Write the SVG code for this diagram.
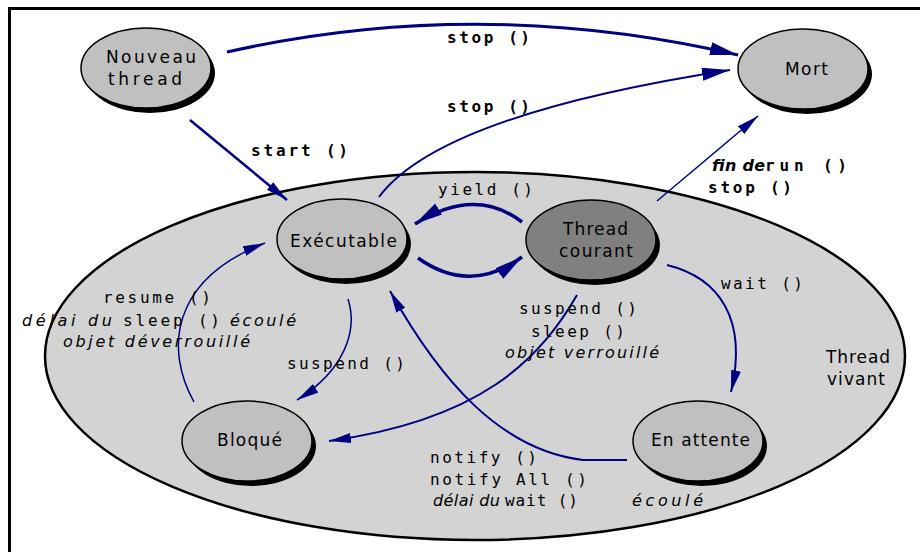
<svg xmlns="http://www.w3.org/2000/svg" width="920" height="552" viewBox="0 0 920 552">
<defs>
<style>
.nt{font-family:"DejaVu Sans","Liberation Sans",sans-serif;font-size:17px;fill:#000}
.cd{font-family:"DejaVu Sans Mono","Liberation Mono",monospace;font-size:16px;fill:#000}
.cb{font-family:"DejaVu Sans Mono","Liberation Mono",monospace;font-size:16px;font-weight:bold;fill:#000}
.it{font-family:"DejaVu Sans","Liberation Sans",sans-serif;font-size:16px;font-style:italic;fill:#000}
.ib{font-family:"DejaVu Sans","Liberation Sans",sans-serif;font-size:16px;font-style:italic;font-weight:bold;fill:#000}
.node{fill:#c0c0c0;stroke:#000;stroke-width:1.5}
.cur{fill:#808080;stroke:#000;stroke-width:1.5}
.sh{fill:#000}
.cn{fill:none;stroke:#000080}
</style>
<marker id="ah" markerUnits="userSpaceOnUse" markerWidth="24" markerHeight="12" refX="22" refY="5" orient="auto">
<path d="M0,0 L22,5 L0,10 z" fill="#000080"/>
</marker>
<marker id="ahL" markerUnits="userSpaceOnUse" markerWidth="30" markerHeight="14" refX="28" refY="6.5" orient="auto">
<path d="M0,0 L28,6.5 L0,13 z" fill="#000080"/>
</marker>
</defs>
<rect width="920" height="552" fill="#fff"/>
<path d="M9.5,552 V8.5 H920" fill="none" stroke="#000" stroke-width="3"/>
<g id="thread-vivant">
<ellipse cx="475" cy="356" rx="430" ry="184" fill="#d3d3d3" stroke="#000" stroke-width="2.5"/>
<text class="nt" x="826" y="363" textLength="64">Thread</text>
<text class="nt" x="827" y="385" textLength="58">vivant</text>
</g>
<g id="connectors">
<path class="cn" stroke-width="3" d="M227,52 Q480,-5 738,55" marker-end="url(#ahL)"/>
<path class="cn" stroke-width="2" d="M379,197 Q440,115 730,70" marker-end="url(#ahL)"/>
<path class="cn" stroke-width="2.5" d="M190,120 L287,200" marker-end="url(#ah)"/>
<path class="cn" stroke-width="1.5" d="M657,201 L758,116" marker-end="url(#ah)"/>
<path class="cn" stroke-width="3.5" d="M522,222 Q475,186 415,224" marker-end="url(#ahL)"/>
<path class="cn" stroke-width="3.5" d="M418,258 Q470,295 522,257" marker-end="url(#ahL)"/>
<path class="cn" stroke-width="2" d="M667,265 C720,278 748,320 731,392" marker-end="url(#ah)"/>
<path class="cn" stroke-width="1.5" d="M348,299 C358,330 345,370 297,400" marker-end="url(#ah)"/>
<path class="cn" stroke-width="2" d="M577,295 C540,360 480,420 329,441" marker-end="url(#ah)"/>
<path class="cn" stroke-width="2" d="M627,460 L583,460 C500,450 440,380 390,291" marker-end="url(#ah)"/>
<path class="cn" stroke-width="1.5" d="M194,402 C165,350 170,280 265,243" marker-end="url(#ah)"/>
</g>
<g id="labels">
<text class="cb" x="447" y="43" textLength="83">stop ()</text>
<text class="cb" x="447" y="112" textLength="83">stop ()</text>
<text class="cb" x="251" y="156" textLength="97">start ()</text>
<text class="ib" x="712" y="171" textLength="53">fin de</text>
<text class="cb" x="765" y="171" textLength="82">run ()</text>
<text class="cb" x="708" y="193" textLength="84">stop ()</text>
<text class="cd" x="438" y="195" textLength="95">yield ()</text>
<text class="cd" x="721" y="289" textLength="82">wait ()</text>
<text class="cd" x="519" y="314" textLength="118">suspend ()</text>
<text class="cd" x="531" y="337" textLength="94">sleep ()</text>
<text class="it" x="505" y="358" textLength="154">objet verrouillé</text>
<text class="cd" x="103" y="303" textLength="108">resume ()</text>
<text class="it" x="22" y="326" textLength="90">délai du</text>
<text class="cd" x="123" y="326" textLength="97">sleep ()</text>
<text class="it" x="230" y="326" textLength="66">écoulé</text>
<text class="it" x="63" y="347" textLength="187">objet déverrouillé</text>
<text class="cd" x="287" y="369" textLength="118">suspend ()</text>
<text class="cd" x="430" y="463" textLength="107">notify ()</text>
<text class="cd" x="430" y="485" textLength="157">notify All ()</text>
<text class="it" x="433" y="506" textLength="67">délai du</text>
<text class="cd" x="505" y="506" textLength="73">wait ()</text>
<text class="it" x="632" y="506" textLength="71">écoulé</text>
</g>
<g id="nouveau-thread">
<ellipse class="sh" cx="150" cy="73" rx="65" ry="40"/>
<ellipse class="node" cx="146" cy="68" rx="65" ry="40"/>
<text class="nt" x="106" y="63" textLength="90">Nouveau</text>
<text class="nt" x="108" y="85" textLength="74">thread</text>
</g>
<g id="mort">
<ellipse class="sh" cx="807" cy="74" rx="65" ry="40"/>
<ellipse class="node" cx="803" cy="69" rx="65" ry="40"/>
<text class="nt" x="785" y="75" textLength="43">Mort</text>
</g>
<g id="executable">
<ellipse class="sh" cx="346" cy="244" rx="65" ry="40"/>
<ellipse class="node" cx="342" cy="239" rx="65" ry="40"/>
<text class="nt" x="290" y="247" textLength="107">Exécutable</text>
</g>
<g id="thread-courant">
<ellipse class="sh" cx="595" cy="245" rx="65" ry="40"/>
<ellipse class="cur" cx="591" cy="240" rx="65" ry="40"/>
<text class="nt" x="563" y="235" textLength="65">Thread</text>
<text class="nt" x="559" y="257" textLength="74">courant</text>
</g>
<g id="bloque">
<ellipse class="sh" cx="251" cy="446" rx="65" ry="40"/>
<ellipse class="node" cx="247" cy="441" rx="65" ry="40"/>
<text class="nt" x="217" y="446" textLength="65">Bloqué</text>
</g>
<g id="en-attente">
<ellipse class="sh" cx="702" cy="446" rx="65" ry="40"/>
<ellipse class="node" cx="698" cy="441" rx="65" ry="40"/>
<text class="nt" x="651" y="446" textLength="99">En attente</text>
</g>
</svg>
